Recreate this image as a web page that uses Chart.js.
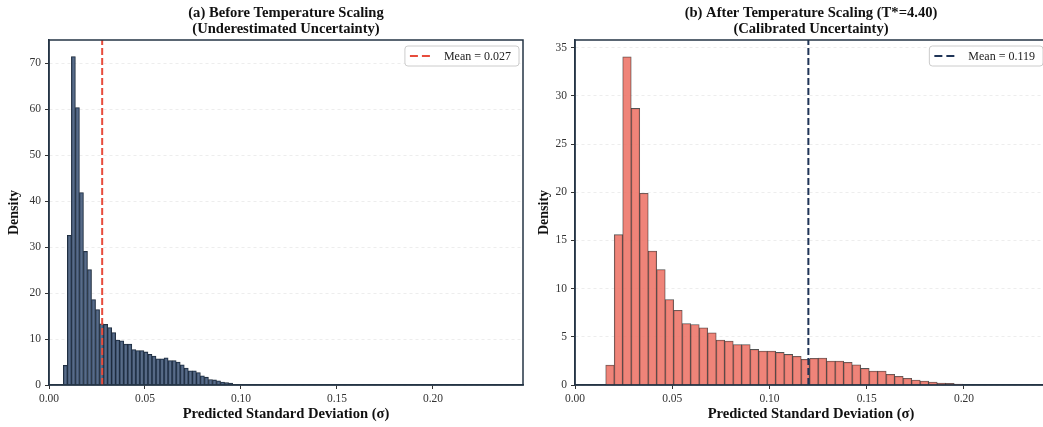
<!DOCTYPE html>
<html>
<head>
<meta charset="utf-8">
<script src="https://cdn.jsdelivr.net/npm/chart.js@4.4.1/dist/chart.umd.min.js"></script>
<style>
  html, body { margin: 0; padding: 0; background: #fff; overflow: hidden; width: 1043px; height: 427px; }
  #left { position: absolute; left: 0; top: 0; width: 530px; height: 427px; }
  #right { position: absolute; left: 530px; top: 0; width: 520px; height: 427px; }
</style>
</head>
<body>
<div id="left"><canvas id="chartA"></canvas></div>
<div id="right"><canvas id="chartB"></canvas></div>
<script>
// (a) before temperature scaling: histogram bins + densities
const binStartA = 0.00745;
const binWidthA = 0.0021;
const densityA = [4.3, 32.6, 71.5, 60.4, 41.9, 29.1, 25.1, 18.6, 16.4, 13.3, 13.2, 12.5, 11.4, 9.8,
  9.6, 8.9, 8.9, 7.7, 7.5, 7.5, 7.2, 6.7, 6.3, 5.7, 5.7, 5.9, 5.3, 5.3, 5.0, 4.4, 3.7, 3.1, 3.1,
  2.7, 2.0, 1.7, 1.2, 1.1, 0.9, 0.65, 0.5, 0.4];
const meanA = 0.0277;
const meanLabelA = "Mean = 0.027";
const yTicksA = [0, 10, 20, 30, 40, 50, 60, 70];

// (b) after temperature scaling
const binStartB = 0.0158;
const binWidthB = 0.00437;
const densityB = [2.07, 15.6, 34.06, 28.7, 19.9, 13.9, 11.97, 8.87, 7.76, 6.38, 6.28, 5.93, 5.42,
  4.66, 4.55, 4.2, 4.2, 3.69, 3.52, 3.52, 3.38, 3.17, 2.97, 2.66, 2.76, 2.8, 2.48, 2.48, 2.35, 2.1,
  1.72, 1.45, 1.45, 1.1, 0.9, 0.69, 0.52, 0.41, 0.31, 0.21, 0.17, 0.1];
const meanB = 0.1200;
const meanLabelB = "Mean = 0.119";
const yTicksB = [0, 5, 10, 15, 20, 25, 30, 35];

const xTicks = [0, 0.05, 0.10, 0.15, 0.20];

const SERIF = "'Liberation Serif', 'Times New Roman', serif";
const SPINE = "#253445";

const framePlugin = {
  id: "frame",
  afterDraw(chart) {
    const { ctx, chartArea: a } = chart;
    const o = chart.options.plugins.frame;
    ctx.save();
    // spines
    ctx.strokeStyle = SPINE;
    ctx.lineWidth = 1.5;
    ctx.strokeRect(a.left, a.top, a.right - a.left, a.bottom - a.top);
    // title
    ctx.fillStyle = "#111";
    ctx.font = "bold 14.6px " + SERIF;
    ctx.textAlign = "center";
    ctx.textBaseline = "middle";
    const cx = (a.left + a.right) / 2;
    ctx.fillText(o.title[0], cx, 13);
    ctx.fillText(o.title[1], cx, 29);
    // legend
    ctx.font = "12px " + SERIF;
    const tw = ctx.measureText(o.label).width;
    const bw = 39 + tw + 8, bh = 20;
    const bx = a.right - 4 - bw, by = a.top + 6;
    ctx.beginPath();
    ctx.roundRect(bx, by, bw, bh, 3);
    ctx.fillStyle = "rgba(255,255,255,0.9)";
    ctx.fill();
    ctx.strokeStyle = "#cccccc";
    ctx.lineWidth = 1;
    ctx.stroke();
    ctx.beginPath();
    ctx.setLineDash([8, 4]);
    ctx.strokeStyle = o.lineColor;
    ctx.lineWidth = 2;
    ctx.moveTo(bx + 5, by + bh / 2);
    ctx.lineTo(bx + 29, by + bh / 2);
    ctx.stroke();
    ctx.setLineDash([]);
    ctx.fillStyle = "#222";
    ctx.textAlign = "left";
    ctx.fillText(o.label, bx + 39, by + bh / 2 + 0.5);
    ctx.restore();
  }
};

function makePanel(id, cfg) {
  const bars = cfg.density.map((d, i) => ({ x: cfg.binStart + cfg.binWidth * (i + 0.5), y: d }));
  return new Chart(document.getElementById(id), {
    type: "bar",
    data: {
      datasets: [
        {
          type: "line",
          data: [{ x: cfg.mean, y: 0 }, { x: cfg.mean, y: cfg.yMax }],
          borderColor: cfg.lineColor,
          borderWidth: 2,
          borderDash: [7, 3],
          pointRadius: 0,
          order: 0,
        },
        {
          data: bars,
          backgroundColor: cfg.fill,
          borderColor: cfg.edge,
          borderWidth: 0.8,
          barPercentage: 1,
          categoryPercentage: 1,
          order: 1,
        },
      ],
    },
    options: {
      responsive: true,
      maintainAspectRatio: false,
      animation: false,
      layout: { padding: { top: 40, right: cfg.padRight, left: 0, bottom: 0 } },
      plugins: {
        legend: { display: false },
        tooltip: { enabled: false },
        frame: { title: cfg.title, label: cfg.label, lineColor: cfg.lineColor },
      },
      scales: {
        x: {
          type: "linear",
          offset: false,
          min: 0,
          max: cfg.xMax,
          afterBuildTicks: (s) => { s.ticks = xTicks.map((v) => ({ value: v })); },
          afterFit: (s) => { s.height = 42; },
          ticks: {
            callback: (v) => Number(v).toFixed(2),
            font: { family: SERIF, size: 11.5 },
            color: "#333",
            padding: 3,
            maxRotation: 0,
          },
          grid: { offset: false, drawOnChartArea: false, drawTicks: true, tickLength: 4, tickColor: "#333", tickWidth: 1 },
          border: { color: SPINE, width: 1.5 },
          title: {
            display: true,
            text: "Predicted Standard Deviation (σ)",
            font: { family: SERIF, size: 14.6, weight: "bold" },
            color: "#111",
            padding: { top: 0, bottom: 4 },
          },
        },
        y: {
          min: 0,
          max: cfg.yMax,
          afterBuildTicks: (s) => { s.ticks = cfg.yTicks.map((v) => ({ value: v })); },
          afterFit: (s) => { s.width = cfg.yWidth; },
          ticks: { font: { family: SERIF, size: 11.5 }, color: "#333", padding: 4 },
          grid: { color: "rgba(0,0,0,0.09)", lineWidth: 0.8, tickLength: 4, tickColor: "#333", tickWidth: 1 },
          border: { color: SPINE, width: 1.5, dash: [3, 3] },
          title: {
            display: true,
            text: "Density",
            font: { family: SERIF, size: 14, weight: "bold" },
            color: "#111",
            padding: { top: 6, bottom: 0 },
          },
        },
      },
    },
    plugins: [framePlugin],
  });
}

makePanel("chartA", {
  binStart: binStartA, binWidth: binWidthA, density: densityA, mean: meanA, label: meanLabelA,
  yTicks: yTicksA, yMax: 75.1, xMax: 0.2469, yWidth: 49, padRight: 7,
  fill: "rgba(62,84,117,0.86)", edge: "#1b2838", lineColor: "#e74c3c",
  title: ["(a) Before Temperature Scaling", "(Underestimated Uncertainty)"],
});

makePanel("chartB", {
  binStart: binStartB, binWidth: binWidthB, density: densityB, mean: meanB, label: meanLabelB,
  yTicks: yTicksB, yMax: 35.8, xMax: 0.2427, yWidth: 45, padRight: 3,
  fill: "rgba(236,112,99,0.86)", edge: "rgba(40,40,40,0.8)", lineColor: "#1f3457",
  title: ["(b) After Temperature Scaling (T*=4.40)", "(Calibrated Uncertainty)"],
});
</script>
</body>
</html>
